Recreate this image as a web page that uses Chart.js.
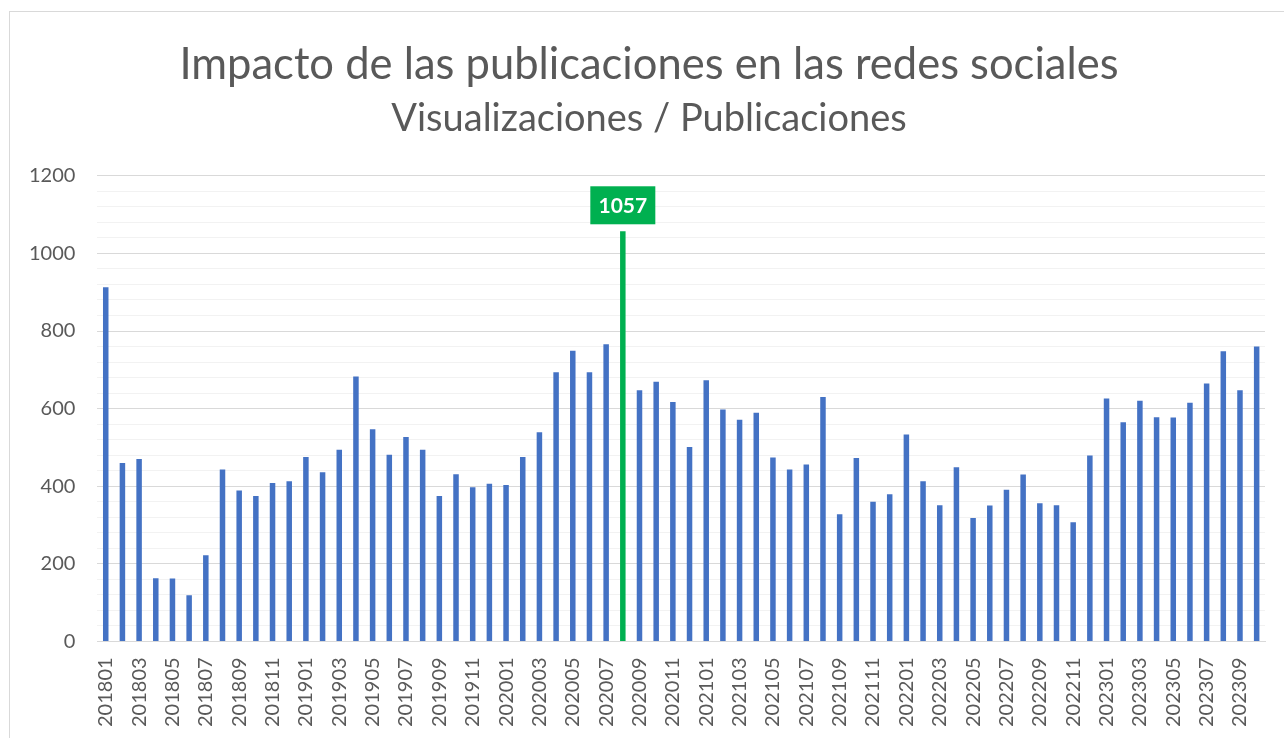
<!DOCTYPE html>
<html>
<head>
<meta charset="utf-8">
<script src="https://cdn.jsdelivr.net/npm/chart.js@4.4.1/dist/chart.umd.min.js"></script>
<style>
  html, body { margin: 0; padding: 0; background: #fff; }
  #wrap { position: relative; width: 1284px; height: 738px; }
  #frame {
    position: absolute; left: 9px; top: 11px; right: -2px; bottom: -2px;
    border-left: 1px solid #d9d9d9; border-top: 1px solid #d9d9d9;
    pointer-events: none;
  }
</style>
</head>
<body>
<div id="wrap">
  <canvas id="impactChart" width="1284" height="738"></canvas>
  <div id="frame"></div>
</div>
<script>
const months = [
  "201801", "201802", "201803", "201804", "201805", "201806", "201807", "201808", "201809", "201810", "201811", "201812",
  "201901", "201902", "201903", "201904", "201905", "201906", "201907", "201908", "201909", "201910", "201911", "201912",
  "202001", "202002", "202003", "202004", "202005", "202006", "202007", "202008", "202009", "202010", "202011", "202012",
  "202101", "202102", "202103", "202104", "202105", "202106", "202107", "202108", "202109", "202110", "202111", "202112",
  "202201", "202202", "202203", "202204", "202205", "202206", "202207", "202208", "202209", "202210", "202211", "202212",
  "202301", "202302", "202303", "202304", "202305", "202306", "202307", "202308", "202309", "202310",
];

const views = [
  913, 460, 470, 163, 162, 119, 222, 443, 389, 375, 408, 413,
  475, 436, 494, 683, 547, 481, 527, 494, 375, 431, 397, 406,
  403, 475, 539, 694, 749, 694, 766, 1057, 647, 669, 617, 501,
  673, 598, 571, 589, 474, 443, 456, 630, 328, 473, 360, 379,
  533, 413, 351, 449, 318, 350, 391, 430, 356, 351, 307, 479,
  626, 565, 620, 578, 577, 615, 665, 748, 647, 760,
];

const titleText = "Impacto de las publicaciones en las redes sociales";
const subtitleText = "Visualizaciones / Publicaciones";

const colorBar = "#4472c4",
  colorPeak = "#00b050",
  colorText = "#595959";

const peakIndex = views.indexOf(Math.max(...views));
const barColors = views.map((v, i) => (i === peakIndex ? colorPeak : colorBar));

// label box over the peak bar
const peakLabel = {
  id: "peakLabel",
  afterDatasetsDraw(chart) {
    const bar = chart.getDatasetMeta(0).data[peakIndex];
    const ctx = chart.ctx;
    const w = 65, h = 38;
    ctx.save();
    ctx.fillStyle = colorPeak;
    ctx.fillRect(bar.x - w / 2, bar.y - 7 - h, w, h);
    ctx.fillStyle = "#fff";
    ctx.font = "bold 21px Lato";
    ctx.textAlign = "center";
    ctx.textBaseline = "middle";
    ctx.fillText(String(views[peakIndex]), bar.x, bar.y - 7 - h / 2 + 1);
    ctx.restore();
  },
};

// the titles sit a bit right of the canvas centre in the original
const nudgeTitles = {
  id: "nudgeTitles",
  afterLayout(chart) {
    chart.boxes.forEach((b) => {
      if (b.options && (b.options.text === titleText || b.options.text === subtitleText)) {
        b.left += 13;
        b.right += 13;
      }
    });
  },
};

const ctx = document.getElementById("impactChart").getContext("2d");

new Chart(ctx, {
  type: "bar",
  data: {
    labels: months,
    datasets: [
      {
        data: views,
        backgroundColor: barColors,
        barPercentage: 0.33,
        categoryPercentage: 1,
      },
    ],
  },
  options: {
    responsive: false,
    animation: false,
    layout: { padding: { left: 7, right: 19, top: 39, bottom: 3 } },
    plugins: {
      legend: { display: false },
      tooltip: { enabled: false },
      title: {
        display: true,
        text: titleText,
        color: colorText,
        font: { family: "Lato", size: 43.5, weight: "normal" },
        padding: { top: 0, bottom: 5 },
      },
      subtitle: {
        display: true,
        text: subtitleText,
        color: colorText,
        font: { family: "Lato", size: 38, weight: "normal" },
        padding: { top: 0, bottom: 34 },
      },
    },
    scales: {
      x: {
        grid: { display: false },
        border: { display: true, color: "#d9d9d9", width: 1 },
        afterFit: (scale) => {
          scale.paddingRight = 0;
        },
        ticks: {
          color: colorText,
          font: { family: "Lato", size: 20 },
          minRotation: 90,
          maxRotation: 90,
          autoSkip: false,
          padding: 8,
          callback: (v, i) => (i % 2 === 0 ? months[i] : ""),
        },
      },
      y: {
        min: 0,
        max: 1200,
        border: { display: false },
        grid: {
          drawTicks: false,
          color: (c) => (c.tick.value % 200 === 0 ? "#d9d9d9" : "#f2f2f2"),
        },
        ticks: {
          stepSize: 40,
          autoSkip: false,
          color: colorText,
          font: { family: "Lato", size: 20 },
          padding: 22,
          callback: (v) => (v % 200 === 0 ? v : ""),
        },
      },
    },
  },
  plugins: [peakLabel, nudgeTitles],
});
</script>
</body>
</html>
